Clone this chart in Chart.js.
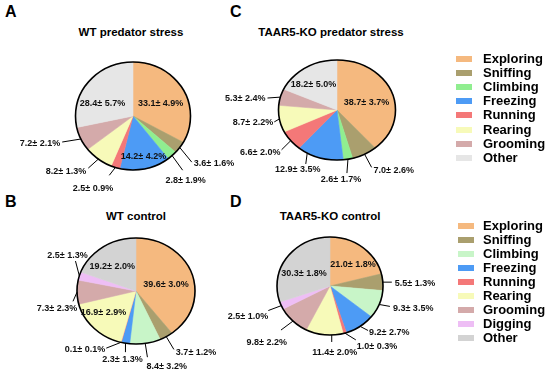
<!DOCTYPE html>
<html lang="en">
<head>
    <meta charset="UTF-8">
    <title>Behaviour pie charts</title>
    <script src="https://cdn.jsdelivr.net/npm/chart.js"></script>
    <style>
        body {
            margin: 0;
            width: 550px;
            height: 374px;
            overflow: hidden;
            background: #fff;
            font-family: Arial, "Liberation Sans", sans-serif;
            color: #000;
            position: relative;
        }
        .pie { position: absolute; }
        .letter {
            position: absolute;
            font-weight: bold;
            font-size: 16px;
            line-height: 16px;
        }
        .title {
            position: absolute;
            font-weight: bold;
            font-size: 11.5px;
            white-space: nowrap;
            transform: translate(-50%, -50%);
        }
        .legend { position: absolute; }
        .legend div {
            position: absolute;
            white-space: nowrap;
            font-weight: bold;
            font-size: 13px;
            line-height: 14px;
        }
        .legend span {
            position: absolute;
            width: 16px;
            height: 6px;
        }
    </style>
</head>
<body>
    <div class="letter" style="left:5px; top:4px;">A</div>
    <div class="letter" style="left:230px; top:4px;">C</div>
    <div class="letter" style="left:5px; top:194px;">B</div>
    <div class="letter" style="left:230px; top:194px;">D</div>

    <div class="title" style="left:131px; top:32px;">WT predator stress</div>
    <div class="title" style="left:331px; top:32px;">TAAR5-KO predator stress</div>
    <div class="title" style="left:136px; top:216px;">WT control</div>
    <div class="title" style="left:330px; top:216px;">TAAR5-KO control</div>

    <div class="pie" id="boxA"><canvas id="pieA"></canvas></div>
    <div class="pie" id="boxC"><canvas id="pieC"></canvas></div>
    <div class="pie" id="boxB"><canvas id="pieB"></canvas></div>
    <div class="pie" id="boxD"><canvas id="pieD"></canvas></div>

    <div class="legend" id="legendTop"></div>
    <div class="legend" id="legendBottom"></div>

    <script>
        // categories
        const behaviorsStress = ['Exploring', 'Sniffing', 'Climbing', 'Freezing', 'Running', 'Rearing', 'Grooming', 'Other'];
        const behaviorsControl = ['Exploring', 'Sniffing', 'Climbing', 'Freezing', 'Running', 'Rearing', 'Grooming', 'Digging', 'Other'];

        // mean % of time and SEM, same order as the categories
        const wtStressMean = [33.1, 3.6, 2.8, 14.2, 2.5, 8.2, 7.2, 28.4];
        const wtStressSem = [4.9, 1.6, 1.9, 4.2, 0.9, 1.3, 2.1, 5.7];
        const koStressMean = [38.7, 7.0, 2.6, 12.9, 6.6, 8.7, 5.3, 18.2];
        const koStressSem = [3.7, 2.6, 1.7, 3.5, 2.0, 2.2, 2.4, 5.0];
        const wtControlMean = [39.6, 3.7, 8.4, 2.3, 0.1, 16.9, 7.3, 2.5, 19.2];
        const wtControlSem = [3.0, 1.2, 3.2, 1.3, 0.1, 2.9, 2.3, 1.3, 2.0];
        const koControlMean = [21.0, 5.5, 9.3, 9.2, 1.0, 11.4, 9.8, 2.5, 30.3];
        const koControlSem = [1.8, 1.3, 3.5, 2.7, 0.3, 2.0, 2.2, 1.0, 1.8];

        // slice colours
        const colorsStress = ['#F5B97F', '#AA9F6E', '#90EE90', '#4D9BF5', '#F47878', '#F7FAB9', '#D4AAAA', '#E6E6E6'];
        const colorsControl = ['#F5B97F', '#AA9F6E', '#C8F5C8', '#4D9BF5', '#F47878', '#F7FAB9', '#D4AAAA', '#EEBEF5', '#D3D3D3'];

        // label placement per slice:
        // ['in', radius factor, angle tweak] or
        // ['out', start shift, leader length, leader tweak, align, dx, dy]
        const placeA = [
            ['in', 0.53, 5.5],
            ['out', 0, 19, 15, 'left', 2, 1],
            ['out', 0, 18, 7, 'center', 3, 10],
            ['in', 0.78, -1.4],
            ['out', 0, 10, 20, 'right', 4, 13],
            ['out', 0, 13.5, 11, 'right', -2, 3],
            ['out', 0, 19, 16, 'right', -2, 1],
            ['in', 0.575, -16]
        ];
        const placeC = [
            ['in', 0.523, 4.8],
            ['out', 0, 15, 0, 'left', 2, 3],
            ['out', 0, 14, 15, 'center', -6, 6],
            ['out', 13.5, 11, -23, 'center', -8, 6],
            ['out', 0, 13, -7, 'right', -1, 3],
            ['out', 0, 6, -20, 'right', -1, 1],
            ['out', 0, 13, -19, 'right', -2, 0],
            ['in', 0.657, -5]
        ];
        const placeB = [
            ['in', 0.52, 6],
            ['out', 0, 15, 0, 'left', 2, 3],
            ['out', 0, 14, 0, 'left', -1, 9],
            ['out', 0, 9, -10, 'center', -3, 7],
            ['out', 0, 16, 54, 'right', -1, 1],
            ['in', 0.68, 9],
            ['out', 0, 10, -65, 'center', -16, 7],
            ['out', 0, 15.5, 59, 'center', -8, -6],
            ['in', 0.62, -6]
        ];
        const placeD = [
            ['in', 0.61, 7.5],
            ['out', 0, 9, 4.5, 'left', 3, 1],
            ['out', 0, 11, -12, 'left', 3, 2],
            ['out', 0, 9, -28, 'left', 1, 2],
            ['out', 0, 13, -42, 'left', 1, 7],
            ['out', -8, 7, 2, 'center', 3, 11],
            ['out', 0, 15, 9, 'right', 6, 12],
            ['out', 0, 14, 3, 'right', 0, 6],
            ['in', 0.55, -9]
        ];

        const rad = d => d * Math.PI / 180;

        // squashes the pie into an ellipse, draws the outline and the value labels
        const pieExtras = {
            id: 'pieExtras',
            beforeDatasetsDraw(chart, args, opts) {
                const arc = chart.getDatasetMeta(0).data[0];
                const ctx = chart.ctx;
                ctx.save();
                ctx.translate(arc.x, arc.y);
                ctx.scale(1, opts.ry / arc.outerRadius);
                ctx.translate(-arc.x, -arc.y);
            },
            afterDatasetsDraw(chart, args, opts) {
                const ctx = chart.ctx;
                ctx.restore();
                const arcs = chart.getDatasetMeta(0).data;
                const cx = arcs[0].x, cy = arcs[0].y, rx = arcs[0].outerRadius, ry = opts.ry;

                ctx.save();
                ctx.beginPath();
                ctx.ellipse(cx, cy, rx, ry, 0, 0, Math.PI * 2);
                ctx.lineWidth = 1.6;
                ctx.strokeStyle = '#000';
                ctx.stroke();

                ctx.font = 'bold 9px Arial, "Liberation Sans", sans-serif';
                ctx.fillStyle = '#111';
                ctx.textBaseline = 'middle';
                ctx.lineWidth = 1;

                arcs.forEach((a, i) => {
                    const mid = (a.startAngle + a.endAngle) / 2;
                    const p = opts.place[i];
                    const text = opts.mean[i].toFixed(1) + '\u00b1 ' + opts.sem[i].toFixed(1) + '%';
                    if (p[0] === 'in') {
                        const t = mid + rad(p[2]);
                        ctx.textAlign = 'center';
                        ctx.fillText(text, cx + Math.cos(t) * rx * p[1], cy + Math.sin(t) * ry * p[1]);
                        return;
                    }
                    const s = mid + rad(p[1]);
                    const x0 = cx + Math.cos(s) * rx, y0 = cy + Math.sin(s) * ry;
                    const d = s + rad(p[3]);
                    const x1 = x0 + Math.cos(d) * p[2], y1 = y0 + Math.sin(d) * p[2];
                    ctx.beginPath();
                    ctx.moveTo(x0, y0);
                    ctx.lineTo(x1, y1);
                    ctx.stroke();
                    ctx.textAlign = p[4];
                    ctx.fillText(text, x1 + p[5], y1 + p[6]);
                });
                ctx.restore();
            }
        };

        function makePie(boxId, canvasId, cx, cy, rx, ry, labels, mean, sem, colors, place) {
            const w = 270, h = 166;
            const box = document.getElementById(boxId);
            box.style.left = (cx - w / 2) + 'px';
            box.style.top = (cy - h / 2) + 'px';
            box.style.width = w + 'px';
            box.style.height = h + 'px';
            return new Chart(document.getElementById(canvasId), {
                type: 'pie',
                data: {
                    labels: labels,
                    datasets: [{
                        data: mean,
                        backgroundColor: colors,
                        borderColor: colors,
                        borderWidth: 0.6,
                        radius: rx,
                        hoverOffset: 0
                    }]
                },
                options: {
                    responsive: true,
                    maintainAspectRatio: false,
                    animation: false,
                    events: [],
                    layout: { padding: 0 },
                    plugins: {
                        legend: { display: false },
                        tooltip: { enabled: false },
                        pieExtras: { ry: ry, mean: mean, sem: sem, place: place }
                    }
                },
                plugins: [pieExtras]
            });
        }

        makePie('boxA', 'pieA', 132.5, 116, 57.5, 54, behaviorsStress, wtStressMean, wtStressSem, colorsStress, placeA);
        makePie('boxC', 'pieC', 336.5, 110, 58.5, 50, behaviorsStress, koStressMean, koStressSem, colorsStress, placeC);
        makePie('boxB', 'pieB', 136, 291, 59, 53, behaviorsControl, wtControlMean, wtControlSem, colorsControl, placeB);
        makePie('boxD', 'pieD', 330, 286, 53, 49, behaviorsControl, koControlMean, koControlSem, colorsControl, placeD);

        // legends
        function makeLegend(id, labels, colors, swatchX, firstY, step) {
            const el = document.getElementById(id);
            labels.forEach((name, i) => {
                const y = firstY + step * i;
                const sw = document.createElement('span');
                sw.style.left = swatchX + 'px';
                sw.style.top = (y - 3) + 'px';
                sw.style.background = colors[i];
                el.appendChild(sw);
                const tx = document.createElement('div');
                tx.textContent = name;
                tx.style.left = '483px';
                tx.style.top = (y - 7) + 'px';
                el.appendChild(tx);
            });
        }
        makeLegend('legendTop', behaviorsStress, colorsStress, 456, 59, 14.1);
        makeLegend('legendBottom', behaviorsControl, colorsControl, 458, 226, 14);
    </script>
</body>
</html>
